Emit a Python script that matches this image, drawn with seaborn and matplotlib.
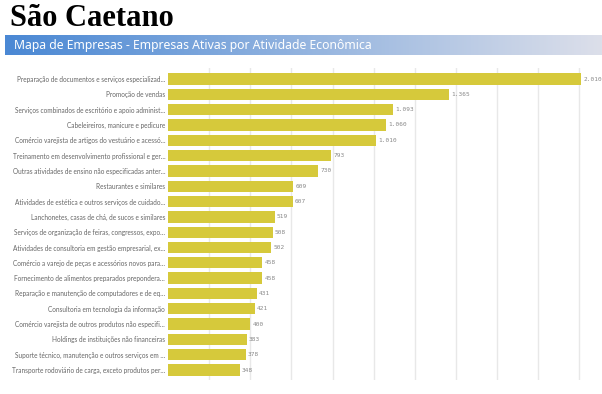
import numpy as np
import pandas as pd
import matplotlib
matplotlib.use("Agg")
import matplotlib.pyplot as plt
import seaborn as sns
from matplotlib.colors import LinearSegmentedColormap

categories = [
    "Preparação de documentos e serviços especializad…",
    "Promoção de vendas",
    "Serviços combinados de escritório e apoio administ…",
    "Cabeleireiros, manicure e pedicure",
    "Comércio varejista de artigos do vestuário e acessó…",
    "Treinamento em desenvolvimento profissional e ger…",
    "Outras atividades de ensino não especificadas anter…",
    "Restaurantes e similares",
    "Atividades de estética e outros serviços de cuidado…",
    "Lanchonetes, casas de chá, de sucos e similares",
    "Serviços de organização de feiras, congressos, expo…",
    "Atividades de consultoria em gestão empresarial, ex…",
    "Comércio a varejo de peças e acessórios novos para…",
    "Fornecimento de alimentos preparados preponderа…".replace("а", "a"),
    "Reparação e manutenção de computadores e de eq…",
    "Consultoria em tecnologia da informação",
    "Comércio varejista de outros produtos não especifi…",
    "Holdings de instituições não financeiras",
    "Suporte técnico, manutenção e outros serviços em …",
    "Transporte rodoviário de carga, exceto produtos per…",
]
values = [2010, 1365, 1093, 1060, 1010, 793, 730, 609, 607, 519,
          508, 502, 458, 458, 431, 421, 400, 383, 378, 348]
value_labels = ["2.010", "1.365", "1.093", "1.060", "1.010", "793", "730",
                "609", "607", "519", "508", "502", "458", "458", "431",
                "421", "400", "383", "378", "348"]
title = "São Caetano"
subtitle = "Mapa de Empresas - Empresas Ativas por Atividade Econômica"

df = pd.DataFrame({"cat": categories, "val": values})

W, H = 602, 394
fig = plt.figure(figsize=(W / 100, H / 100), dpi=100)
fig.patch.set_facecolor("white")

# Title
fig.text(10 / W, 1 - 19 / H, title, fontsize=22, fontweight="bold",
         family="Liberation Serif", color="black", va="center", ha="left")

# Banner with gradient
bax = fig.add_axes([5 / W, 1 - 55 / H, 597 / W, 20 / H])
cmap = LinearSegmentedColormap.from_list("ban", ["#4a88d4", "#dcdfea"])
bax.imshow(np.linspace(0, 1, 256).reshape(1, -1), aspect="auto", cmap=cmap,
           extent=[0, 1, 0, 1])
bax.set_axis_off()
bax.text(9 / 597, 0.5, subtitle, color="white", fontsize=8.8, family="Noto Sans",
         va="center", ha="left", transform=bax.transAxes)

# Main bar chart
ax = fig.add_axes([168 / W, (H - 380) / H, 432 / W, 312 / H])
sns.barplot(data=df, x="val", y="cat", orient="h", color="#d6c93b",
            saturation=1, width=0.74, ax=ax)
ax.set_xlim(0, 2100)
ax.set_ylim(19.65, -0.72)
ax.set_xticks(np.arange(200, 2001, 200))
ax.xaxis.grid(True, color="#e8e8e8", linewidth=1)
ax.set_axisbelow(True)
for s in ax.spines.values():
    s.set_visible(False)
ax.tick_params(axis="x", length=0, labelbottom=False)
ax.tick_params(axis="y", length=0, pad=2, labelsize=4.7, labelcolor="#666666")
for lab in ax.get_yticklabels():
    lab.set_family("Lato")
ax.set_xlabel("")
ax.set_ylabel("")

for i, (v, t) in enumerate(zip(values, value_labels)):
    ax.annotate(t, xy=(v, i), xytext=(1.5, 0), textcoords="offset points",
                va="center", ha="left", fontsize=4.4, color="#888888",
                family="DejaVu Sans Mono", annotation_clip=False)

fig.savefig("out.png", dpi=100)
